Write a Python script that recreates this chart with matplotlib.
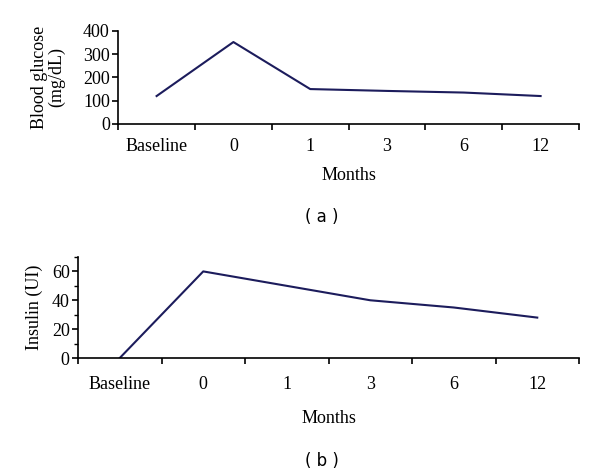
import matplotlib.pyplot as plt
import numpy as np

# --- Data ---
categories = ['Baseline', '0', '1', '3', '6', '12']
glucose = [120, 352, 150, 142, 135, 120]
insulin = [0, 60, 50, 40, 35, 28]

LINE_COLOR = '#1c1c5c'
plt.rcParams['font.family'] = ['Liberation Serif', 'DejaVu Serif']

fig = plt.figure(figsize=(6, 4.75), dpi=100)
x = np.arange(len(categories))


def style_axes(ax, ymax, yticks, minor=None, xpad=10, xlabelpad=4):
    for s in ['top', 'right']:
        ax.spines[s].set_visible(False)
    ax.spines['left'].set_linewidth(1.2)
    ax.spines['bottom'].set_linewidth(1.2)
    ax.set_xlim(-0.5, len(categories) - 0.5)
    ax.set_ylim(0, ymax)
    ax.set_xticks(np.arange(-0.5, len(categories), 1.0))
    ax.set_xticklabels([])
    ax.set_xticks(x, minor=True)
    ax.set_xticklabels(categories, minor=True, fontsize=13)
    ax.tick_params(axis='x', which='minor', length=0, pad=xpad)
    ax.tick_params(axis='x', which='major', length=4, width=1.2, direction='out')
    ax.set_yticks(yticks)
    if minor is not None:
        ax.set_yticks(minor, minor=True)
        ax.tick_params(axis='y', which='minor', length=3, width=1)
    ax.tick_params(axis='y', which='major', labelsize=13, length=4, width=1.2, pad=2)
    ax.set_xlabel('Months', fontsize=13, labelpad=xlabelpad)


# (a) Blood glucose
ax1 = fig.add_axes([0.197, 0.739, 0.768, 0.196])
ax1.plot(x, glucose, color=LINE_COLOR, linewidth=1.5)
style_axes(ax1, 400, [0, 100, 200, 300, 400], xpad=10, xlabelpad=9)
ax1.set_ylabel('Blood glucose\n(mg/dL)', fontsize=13, linespacing=1.0, labelpad=13)

# (b) Insulin
ax2 = fig.add_axes([0.13, 0.2463, 0.835, 0.2127])
ax2.plot(x, insulin, color=LINE_COLOR, linewidth=1.5)
style_axes(ax2, 70, [0, 20, 40, 60], minor=[10, 30, 50, 70], xpad=13, xlabelpad=12)
ax2.set_ylabel('Insulin (UI)', fontsize=13, labelpad=6)

fig.text(0.537, 1 - 217 / 475, '( a )', ha='center', va='center',
         fontsize=12, family='DejaVu Sans')
fig.text(0.537, 1 - 461 / 475, '( b )', ha='center', va='center',
         fontsize=12, family='DejaVu Sans')

fig.savefig('out.png', dpi=100)
